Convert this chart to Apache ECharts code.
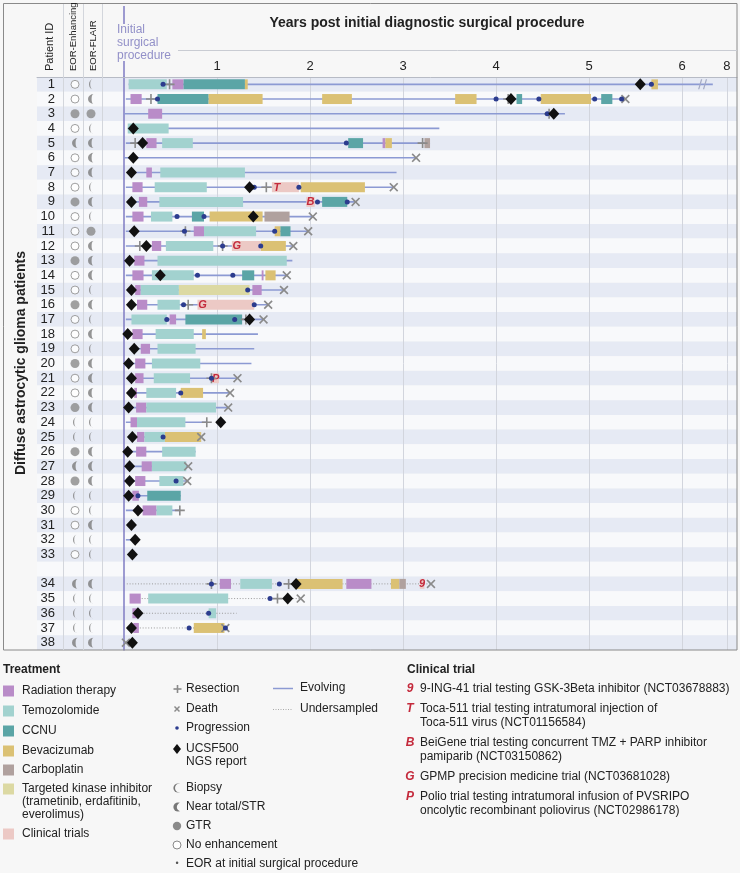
<!DOCTYPE html>
<html>
<head>
<meta charset="utf-8">
<script src="https://cdn.jsdelivr.net/npm/echarts@6/dist/echarts.min.js"></script>
<style>
  html, body { margin: 0; background: #f7f7f7; }
  #chart { width: 740px; height: 873px; }
</style>
</head>
<body>
<div id="chart"></div>
<script>
// rows: patients 1-33, a spacer, then 34-38
const rowCats = ['1','2','3','4','5','6','7','8','9','10','11','12','13','14','15','16','17','18','19','20',
  '21','22','23','24','25','26','27','28','29','30','31','32','33','','34','35','36','37','38']

// x axis ticks (axis is broken after 6, last tick reads 8)
const tickValues = [1, 2, 3, 4, 5, 6, 6.48]
const tickLabels = ['1', '2', '3', '4', '5', '6', '8']

// EOR per patient 1..38: O no enhancement, B biopsy, N near total/STR, G GTR
const eorEnhancing = ['O','O','G','O','N','O','O','O','G','O','O','O','G','O','O','G','O','O','O','G',
  'O','O','G','B','B','G','N','G','B','O','O','B','O','N','B','B','B','N']
const eorFlair = ['B','N','G','B','N','N','N','B','N','B','G','N','N','N','B','N','B','N','B','N',
  'N','N','N','B','B','N','N','N','B','B','N','B','B','N','B','B','B','N']

// treatments: [patient, start, end] in years
const radiation = [[1,0.52,0.64],[2,0.07,0.19],[3,0.26,0.41],[5,0.24,0.35],[5,2.78,2.81],[7,0.24,0.30],
  [8,0.09,0.20],[9,0.16,0.25],[10,0.09,0.21],[11,0.75,0.86],[12,0.30,0.40],[13,0.11,0.22],[14,0.09,0.21],
  [14,1.48,1.50],[15,0.12,0.18],[15,1.38,1.48],[16,0.14,0.25],[17,0.49,0.56],[18,0.09,0.20],[19,0.18,0.28],
  [20,0.12,0.23],[21,0.12,0.21],[22,0.11,0.14],[23,0.13,0.24],[24,0.07,0.14],[25,0.14,0.22],[26,0.13,0.24],
  [27,0.19,0.30],[28,0.12,0.23],[29,0.09,0.16],[30,0.20,0.35],[34,1.03,1.15],[34,2.39,2.66],[35,0.06,0.18],
  [36,0.09,0.14],[37,0.10,0.16]]
const temozolomide = [[1,0.05,0.46],[4,0.04,0.48],[5,0.41,0.74],[7,0.39,1.30],[8,0.33,0.89],[9,0.38,1.28],
  [10,0.29,0.52],[11,0.86,1.42],[12,0.45,0.96],[13,0.36,1.75],[14,0.30,0.75],[15,0.18,0.59],[16,0.36,0.60],
  [17,0.08,0.46],[18,0.34,0.75],[19,0.36,0.77],[20,0.30,0.82],[21,0.32,0.71],[22,0.24,0.56],[23,0.24,0.99],
  [24,0.14,0.66],[25,0.22,0.44],[26,0.41,0.77],[27,0.30,0.67],[28,0.38,0.64],[30,0.35,0.52],[34,1.25,1.59],
  [35,0.26,1.12],[36,0.91,0.99]]
const ccnu = [[1,0.64,1.30],[2,0.36,0.91],[2,4.22,4.28],[2,5.13,5.25],[5,2.41,2.57],[9,2.13,2.40],
  [10,0.73,0.86],[11,1.68,1.79],[14,1.27,1.40],[17,0.66,1.27],[29,0.25,0.61]]
const bevacizumab = [[1,1.30,1.33],[1,5.67,5.74],[2,0.91,1.49],[2,2.13,2.45],[2,3.56,3.79],[2,4.48,5.02],
  [5,2.81,2.88],[8,1.90,2.59],[10,0.92,1.49],[11,1.62,1.68],[12,1.47,1.74],[14,1.52,1.63],[18,0.84,0.88],
  [22,0.61,0.85],[25,0.44,0.83],[34,1.86,2.35],[34,2.87,2.96],[37,0.75,1.08]]
const carboplatin = [[5,3.23,3.29],[10,1.51,1.78],[34,2.96,3.03]]
const kinaseInhibitor = [[15,0.59,1.35]]
// [patient, start, end, trial]
const clinicalTrials = [[8,1.59,1.88,'T'],[9,1.96,2.05,'B'],[12,1.16,1.47,'G'],[16,0.79,1.40,'G'],
  [21,0.95,1.02,'P'],[34,3.18,3.23,'9']]

// follow-up: [patient, start, end]
const evolving = [[1,0.05,6.33],[2,0.02,5.39],[3,0,4.74],[4,0.04,3.39],[5,0.02,3.29],[6,0,3.14],[7,0.08,2.93],
  [8,0.02,2.90],[9,0.08,2.49],[10,0.02,2.03],[11,0.02,1.98],[12,0.02,1.82],[13,0.06,1.81],[14,0.02,1.75],
  [15,0.08,1.72],[16,0.08,1.55],[17,0.02,1.50],[18,0.04,1.44],[19,0.11,1.40],[20,0.05,1.37],[21,0.08,1.22],
  [22,0.08,1.14],[23,0.05,1.12],[24,0.02,0.89],[25,0.09,0.83],[26,0.04,0.77],[27,0.06,0.69],[28,0.06,0.68],
  [29,0.05,0.61],[30,0.02,0.60],[32,0.02,0.12]]
const undersampled = [[34,0.03,3.30],[35,0.07,1.90],[36,0.09,1.21],[37,0.08,1.09]]

// events: [patient, time]
const progression = [[1,0.42],[1,5.67],[2,0.36],[2,4.00],[2,4.46],[2,5.06],[2,5.35],[3,4.55],[5,2.39],
  [8,1.40],[8,1.88],[9,2.08],[9,2.40],[10,0.57],[10,0.86],[11,0.65],[11,1.62],[12,1.06],[12,1.47],
  [14,0.79],[14,1.17],[15,1.33],[16,0.64],[16,1.40],[17,0.46],[17,1.19],[21,0.94],[22,0.61],[25,0.42],
  [28,0.56],[29,0.15],[34,0.94],[34,1.67],[35,1.57],[36,0.91],[37,0.70],[37,1.09]]
const resection = [[1,0.49],[2,0.29],[2,4.13],[3,4.57],[5,0.12],[5,3.21],[8,1.53],[11,0.66],[12,0.17],
  [12,1.06],[16,0.69],[17,1.31],[21,0.94],[24,0.89],[30,0.60],[34,0.94],[34,1.77],[35,1.65]]
const death = [[2,5.39],[6,3.14],[8,2.90],[9,2.49],[10,2.03],[11,1.98],[12,1.82],[14,1.75],[15,1.72],
  [16,1.55],[17,1.50],[21,1.22],[22,1.14],[23,1.12],[25,0.83],[27,0.69],[28,0.68],[34,3.30],[35,1.90],
  [37,1.09],[38,0.02]]
const ngsReport = [[1,5.55],[2,4.16],[3,4.62],[4,0.10],[5,0.20],[6,0.10],[7,0.08],[8,1.35],[9,0.08],
  [10,1.39],[11,0.11],[12,0.24],[13,0.06],[14,0.39],[15,0.08],[16,0.08],[17,1.35],[18,0.04],[19,0.11],
  [20,0.05],[21,0.08],[22,0.08],[23,0.05],[24,1.04],[25,0.09],[26,0.04],[27,0.06],[28,0.06],[29,0.05],
  [30,0.15],[31,0.08],[32,0.12],[33,0.09],[34,1.85],[35,1.76],[36,0.15],[37,0.08],[38,0.09]]
const axisBreakMarks = [[1,6.22]]

const FONT = '"Liberation Sans", Arial, sans-serif'
const C = {
    radiation: '#b98cc8',
    temozolomide: '#a2d2cf',
    ccnu: '#5ba5a6',
    bevacizumab: '#dbc174',
    carboplatin: '#b0a19e',
    kinase: '#dcd9a3',
    trial: '#ecc9c5',
    evolving: '#8c9ad3',
    dotted: '#9a9a9a',
    prog: '#2c3c8e',
    gray: '#8a8a8a',
    purple: '#7f7bc3',
    trialText: '#c42a3c',
    bg: '#f7f7f7'
}

const rowIdx = p => rowCats.indexOf(String(p))

const SYM = {
    plus: 'path://M4.2,0H5.8V4.2H10V5.8H5.8V10H4.2V5.8H0V4.2H4.2Z',
    cross: 'path://M1.3,0L5,3.7L8.7,0L10,1.3L6.3,5L10,8.7L8.7,10L5,6.3L1.3,10L0,8.7L3.7,5L0,1.3Z',
    thin: 'path://M10,0A10,10 0 0 0 10,20A7,10 0 0 1 10,0Z',
    half: 'path://M10,0A10,10 0 0 0 10,20A4,10 0 0 1 10,0Z',
    slashes: 'path://M3,0L4.3,0L1.3,10L0,10Z M8,0L9.3,0L6.3,10L5,10Z'
}

// ---------- render helpers ----------
const barItem = color => (params, api) => {
    const s = api.coord([api.value(0), api.value(2)])
    const e = api.coord([api.value(1), api.value(2)])
    const h = api.size([0, 1])[1] * 0.68
    return {
        type: 'rect',
        shape: { x: s[0], y: s[1] - h / 2, width: Math.max(e[0] - s[0], 1.5), height: h },
        style: { fill: color }
    }
}
const lineItem = (stroke, width, dash) => (params, api) => {
    const s = api.coord([api.value(0), api.value(2)])
    const e = api.coord([api.value(1), api.value(2)])
    return {
        type: 'line',
        shape: { x1: s[0], y1: s[1], x2: e[0], y2: e[1] },
        style: { stroke: stroke, lineWidth: width, lineDash: dash || null }
    }
}
const trialItem = (params, api) => {
    const s = api.coord([api.value(0), api.value(2)])
    const e = api.coord([api.value(1), api.value(2)])
    const h = api.size([0, 1])[1] * 0.68
    const w = e[0] - s[0]
    return {
        type: 'group',
        children: [
            { type: 'rect', shape: { x: s[0], y: s[1] - h / 2, width: w, height: h }, style: { fill: C.trial } },
            {
                type: 'text', x: s[0] + Math.min(5, w / 2), y: s[1] + 0.5,
                style: {
                    text: clinicalTrials[params.dataIndex][3], fill: C.trialText,
                    font: 'italic bold 11px ' + FONT, align: 'center', verticalAlign: 'middle'
                }
            }
        ]
    }
}

const spanData = arr => arr.map(d => [d[1], d[2], rowIdx(d[0])])
const pointData = arr => arr.map(d => [d[1], rowIdx(d[0])])

const spanSeries = (name, arr, render, z) => ({
    name: name, type: 'custom', xAxisIndex: 1, yAxisIndex: 1, z: z,
    renderItem: render, data: spanData(arr), encode: { x: [0, 1], y: 2 }, silent: true
})
const pointSeries = (name, arr, symbol, size, color, z) => ({
    name: name, type: 'scatter', xAxisIndex: 1, yAxisIndex: 1, z: z, clip: false,
    symbol: symbol, symbolSize: size, itemStyle: { color: color, opacity: 1 },
    data: pointData(arr), silent: true
})

// EOR table: symbol data per class
const eorCols = [{ vals: eorEnhancing, x: 38 }, { vals: eorFlair, x: 54 }]
const eorData = code => {
    const out = []
    eorCols.forEach(col => col.vals.forEach((v, i) => {
        if (v === code) out.push([col.x, rowIdx(i + 1)])
    }))
    return out
}
const eorSeries = (code, symbol, size, style) => ({
    type: 'scatter', xAxisIndex: 0, yAxisIndex: 0, z: 4, clip: false, silent: true,
    symbol: symbol, symbolSize: size, itemStyle: style, data: eorData(code)
})

// ---------- decorations ----------
const graphics = []
const text = (x, y, t, opt) => {
    opt = opt || {}
    graphics.push({
        type: 'text', x: x, y: y, rotation: opt.rotation || 0, z: 10,
        style: {
            text: t, fill: opt.color || '#222',
            font: (opt.weight || 'normal') + ' ' + (opt.size || 12) + 'px ' + FONT,
            align: opt.align || 'left', verticalAlign: opt.va || 'middle', lineHeight: opt.lh || 13.5
        }
    })
}
const line = (x1, y1, x2, y2, stroke, w, dash) => graphics.push({
    type: 'line', z: 10, shape: { x1: x1, y1: y1, x2: x2, y2: y2 },
    style: { stroke: stroke, lineWidth: w || 1, lineDash: dash || null }
})
const rect = (x, y, w, h, fill) => graphics.push({
    type: 'rect', z: 10, shape: { x: x, y: y, width: w, height: h }, style: { fill: fill }
})
const circle = (cx, cy, r, fill, stroke, z) => graphics.push({
    type: 'circle', z: z || 10, shape: { cx: cx, cy: cy, r: r },
    style: { fill: fill, stroke: stroke || null, lineWidth: 1 }
})

// frame
graphics.push({ type: 'rect', z: 9, shape: { x: 3.5, y: 3.5, width: 733.5, height: 646.5 }, style: { fill: null, stroke: '#8a8a8a', lineWidth: 1 } })
;[63.5, 83.5, 102.5].forEach(x => line(x, 4, x, 650, '#d3d6dc'))
line(124, 6, 124, 24, C.purple, 1.5)
line(124, 61, 124, 77, C.purple, 1.5)
line(178, 50.5, 737, 50.5, '#c9ccd3')

// header texts
text(427, 23, 'Years post initial diagnostic surgical procedure', { weight: 'bold', size: 14, align: 'center' })
text(117, 23, 'Initial\nsurgical\nprocedure', { color: '#9290c8', size: 12, lh: 13, va: 'top' })
text(50, 71, 'Patient ID', { rotation: Math.PI / 2, size: 11 })
text(73, 71, 'EOR-Enhancing', { rotation: Math.PI / 2, size: 9.5 })
text(93, 71, 'EOR-FLAIR', { rotation: Math.PI / 2, size: 9.5 })
text(21, 363, 'Diffuse astrocytic glioma patients', { rotation: Math.PI / 2, size: 14, weight: 'bold', align: 'center' })

// legend: treatment
text(3, 670, 'Treatment', { weight: 'bold' })
const treatLegend = [
    ['Radiation therapy', C.radiation, 691], ['Temozolomide', C.temozolomide, 711], ['CCNU', C.ccnu, 731],
    ['Bevacizumab', C.bevacizumab, 751], ['Carboplatin', C.carboplatin, 770],
    ['Targeted kinase inhibitor\n(trametinib, erdafitinib,\neverolimus)', C.kinase, 789], ['Clinical trials', C.trial, 834]
]
treatLegend.forEach(d => {
    rect(3, d[2] - 5.5, 11, 11, d[1])
    text(22, d[2] - 7, d[0], { va: 'top', lh: 13 })
})

// legend: symbols
rect(173.5, 688.2, 8, 1.6, C.gray); rect(176.7, 685, 1.6, 8, C.gray)
text(186, 689, 'Resection')
line(174.5, 706.5, 179.5, 711.5, C.gray, 1.5); line(179.5, 706.5, 174.5, 711.5, C.gray, 1.5)
text(186, 709, 'Death')
circle(177, 728, 1.8, C.prog)
text(186, 728, 'Progression')
graphics.push({ type: 'polygon', z: 10, shape: { points: [[177, 744], [181, 749], [177, 754], [173, 749]] }, style: { fill: '#111' } })
text(186, 742, 'UCSF500\nNGS report', { va: 'top', lh: 13 })
circle(178, 788, 4.6, '#777', null, 10); circle(179.6, 788, 4.6, C.bg, null, 11)
text(186, 788, 'Biopsy')
circle(178, 807, 4.6, '#777', null, 10); circle(181.2, 807, 4.4, C.bg, null, 11)
text(186, 807, 'Near total/STR')
circle(177, 826, 4.2, '#8a8a8a')
text(186, 826, 'GTR')
circle(177, 845, 4, '#fff', '#8a8a8a')
text(186, 845, 'No enhancement')
text(177, 864, '•', { align: 'center', color: '#555', size: 9 })
text(186, 864, 'EOR at initial surgical procedure')
line(273, 688.5, 293, 688.5, C.evolving, 1.5); text(300, 688, 'Evolving')
line(273, 709.5, 293, 709.5, '#aaa', 1, [1, 1.5]); text(300, 709, 'Undersampled')

// legend: clinical trials
text(407, 670, 'Clinical trial', { weight: 'bold' })
const trialLegend = [
    ['9', '9-ING-41 trial testing GSK-3Beta inhibitor (NCT03678883)', 689],
    ['T', 'Toca-511 trial testing intratumoral injection of\nToca-511 virus (NCT01156584)', 709],
    ['B', 'BeiGene trial testing concurrent TMZ + PARP inhibitor\npamiparib (NCT03150862)', 743],
    ['G', 'GPMP precision medicine trial (NCT03681028)', 777],
    ['P', 'Polio trial testing intratumoral infusion of PVSRIPO\noncolytic recombinant poliovirus (NCT02986178)', 797]
]
trialLegend.forEach(d => {
    graphics.push({
        type: 'text', x: 410, y: d[2], z: 10,
        style: { text: d[0], fill: C.trialText, font: 'italic bold 12px ' + FONT, align: 'center', verticalAlign: 'middle' }
    })
    text(420, d[2] - 7, d[1], { va: 'top', lh: 14 })
})

// ---------- chart ----------
const bands = { show: true, interval: 0, areaStyle: { color: ['#e6eaf4', '#f8f9fb'] } }
const chart = echarts.init(document.getElementById('chart'))
chart.setOption({
    animation: false,
    backgroundColor: C.bg,
    textStyle: { fontFamily: FONT },
    grid: [
        { left: 37, top: 77, width: 87, bottom: 223, outerBoundsMode: 'none', containLabel: false },
        { left: 124, top: 77, right: 3, bottom: 223, outerBoundsMode: 'none', containLabel: false }
    ],
    xAxis: [
        {
            gridIndex: 0, type: 'value', position: 'top', min: 0, max: 87,
            axisLine: { show: true, lineStyle: { color: '#b7bbc5' } },
            axisTick: { show: false }, axisLabel: { show: false }, splitLine: { show: false }
        },
        {
            gridIndex: 1, type: 'value', position: 'top', min: 0, max: 6.59,
            axisLine: { show: true, lineStyle: { color: '#b7bbc5' } },
            axisTick: { show: false, customValues: tickValues },
            axisLabel: {
                customValues: tickValues, margin: 4, fontSize: 13, color: '#222',
                formatter: v => tickLabels[tickValues.indexOf(v)] || ''
            },
            splitLine: { show: true, lineStyle: { color: '#d2d5dd', width: 1 } }
        }
    ],
    yAxis: [
        {
            gridIndex: 0, type: 'category', inverse: true, data: rowCats,
            axisLine: { show: false }, axisTick: { show: false },
            axisLabel: { inside: true, margin: 18, align: 'right', interval: 0, fontSize: 13, color: '#222' },
            splitArea: bands
        },
        {
            gridIndex: 1, type: 'category', inverse: true, data: rowCats,
            axisLine: { show: true, lineStyle: { color: C.purple, width: 1.5 } },
            axisTick: { show: false }, axisLabel: { show: false },
            splitArea: bands
        }
    ],
    series: [
        spanSeries('Evolving', evolving, lineItem(C.evolving, 1.6), 2),
        spanSeries('Undersampled', undersampled, lineItem(C.dotted, 1, [1, 1.8]), 2),
        spanSeries('Radiation therapy', radiation, barItem(C.radiation), 3),
        spanSeries('Temozolomide', temozolomide, barItem(C.temozolomide), 3),
        spanSeries('CCNU', ccnu, barItem(C.ccnu), 3),
        spanSeries('Bevacizumab', bevacizumab, barItem(C.bevacizumab), 3),
        spanSeries('Carboplatin', carboplatin, barItem(C.carboplatin), 3),
        spanSeries('Targeted kinase inhibitor', kinaseInhibitor, barItem(C.kinase), 3),
        spanSeries('Clinical trials', clinicalTrials, trialItem, 3),
        pointSeries('Axis break', axisBreakMarks, SYM.slashes, [9, 10], '#a3a9c4', 4),
        pointSeries('Resection', resection, SYM.plus, 10, C.gray, 4),
        pointSeries('Death', death, SYM.cross, 9, C.gray, 4),
        pointSeries('Progression', progression, 'circle', 5, C.prog, 5),
        pointSeries('UCSF500 NGS report', ngsReport, 'diamond', [11, 12], '#111', 6),
        eorSeries('O', 'circle', 8, { color: '#ffffff', borderColor: '#8a8a8a', borderWidth: 1 }),
        eorSeries('G', 'circle', 9, { color: '#8a8a8a' }),
        eorSeries('B', SYM.thin, [4, 10], { color: '#7a7a7a' }),
        eorSeries('N', SYM.half, [6, 10], { color: '#7a7a7a' })
    ],
    graphic: graphics
})
</script>
</body>
</html>
